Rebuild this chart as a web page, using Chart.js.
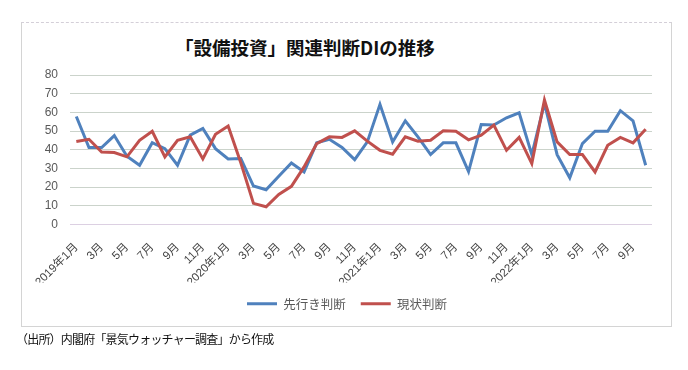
<!DOCTYPE html>
<html lang="ja">
<head>
<meta charset="utf-8">
<title>設備投資関連判断DIの推移</title>
<script src="https://cdn.jsdelivr.net/npm/chart.js@4"></script>
<style>
  html, body { margin: 0; padding: 0; background: #fff; }
  #page { position: relative; width: 688px; height: 370px; overflow: hidden; }
  #frame {
    position: absolute; left: 21px; top: 22px; width: 649px; height: 303px;
    border: 1px solid #d4d4d4; border-top: 1px dashed #d4cfd8;
  }
  #title {
    position: absolute; left: 175px; top: 34px;
    font: bold 18.5px "Noto Sans CJK JP", sans-serif; color: #111; white-space: nowrap;
  }
  #source {
    position: absolute; left: 16px; top: 330px; letter-spacing: -0.8px;
    font: 12px "Noto Sans CJK JP", sans-serif; color: #111; white-space: nowrap;
  }
  #chartBox { position: absolute; left: 0; top: 0; width: 688px; height: 370px; }
</style>
</head>
<body>
<div id="page">
  <div id="frame"></div>
  <div id="title">「設備投資」関連判断DIの推移</div>
  <div id="chartBox"><canvas id="diChart"></canvas></div>
  <div id="source">（出所）内閣府「景気ウォッチャー調査」から作成</div>
</div>
<script>
// ============================================================
// DATA
// ============================================================
const months = [
    "2019年1月", "2月", "3月", "4月", "5月", "6月", "7月", "8月", "9月", "10月", "11月", "12月",
    "2020年1月", "2月", "3月", "4月", "5月", "6月", "7月", "8月", "9月", "10月", "11月", "12月",
    "2021年1月", "2月", "3月", "4月", "5月", "6月", "7月", "8月", "9月", "10月", "11月", "12月",
    "2022年1月", "2月", "3月", "4月", "5月", "6月", "7月", "8月", "9月", "10月"
];

// 先行き判断 DI
const outlookDI = [
    57.8, 41.2, 41.2, 47.6, 36.5, 31.7, 43.8, 40.6, 31.7, 47.8, 51.4, 40.6,
    35.1, 35.3, 20.6, 18.6, 25.8, 32.9, 28.1, 43.7, 45.6, 41.2, 34.7, 44.2,
    64.3, 44.2, 55.5, 46.9, 37.4, 43.7, 43.7, 28.3, 53.5, 53.2, 57.1, 59.8,
    37.4, 64.8, 37.4, 25.0, 43.3, 49.9, 49.9, 60.9, 55.5, 31.7
];

// 現状判断 DI
const currentDI = [
    44.4, 45.6, 38.8, 38.5, 36.2, 45.1, 49.9, 36.2, 45.1, 46.9, 35.1, 48.3,
    52.7, 33.0, 11.3, 9.5, 16.1, 20.4, 30.8, 43.3, 46.9, 46.6, 50.1, 44.6,
    39.7, 37.6, 46.9, 44.6, 45.1, 50.1, 49.9, 45.3, 47.8, 53.2, 39.7, 46.6,
    32.6, 66.6, 44.2, 37.4, 37.4, 28.1, 42.4, 46.6, 43.7, 51.0
];

const yTicks = [0, 10, 20, 30, 40, 50, 60, 70, 80];

// ============================================================
// STYLE
// ============================================================
const COLORS = {
    outlook: "#4f81bd",
    current: "#c0504d",
    grid: "#cbd3cb",
    zeroLine: "#dcd0e2",
    text: "#595959",
    xText: "#444444"
};

Chart.defaults.font.family = "'Liberation Sans', 'Noto Sans CJK JP', sans-serif";
Chart.defaults.color = COLORS.text;

// ============================================================
// CHART
// ============================================================
const ctx = document.getElementById("diChart");

new Chart(ctx, {
    type: "line",
    data: {
        labels: months,
        datasets: [
            {
                label: "先行き判断",
                data: outlookDI,
                borderColor: COLORS.outlook,
                backgroundColor: COLORS.outlook,
                borderWidth: 3,
                pointRadius: 0,
                tension: 0,
                order: 2
            },
            {
                label: "現状判断",
                data: currentDI,
                borderColor: COLORS.current,
                backgroundColor: COLORS.current,
                borderWidth: 3,
                pointRadius: 0,
                tension: 0,
                order: 1
            }
        ]
    },
    options: {
        responsive: true,
        maintainAspectRatio: false,
        animation: false,
        // left/right padding keep the legend centred under the frame
        layout: { padding: { left: 42, right: 36, top: 75, bottom: 50 } },
        plugins: {
            title: { display: false },
            tooltip: { enabled: false },
            legend: {
                position: "bottom",
                labels: {
                    usePointStyle: true,
                    pointStyle: "line",
                    pointStyleWidth: 30,
                    padding: 15,
                    color: COLORS.text,
                    font: { size: 12.5, family: "'Noto Sans CJK JP', sans-serif" },
                    sort: (a, b) => a.datasetIndex - b.datasetIndex
                }
            }
        },
        scales: {
            x: {
                offset: true,
                grid: { display: false },
                border: { display: false },
                ticks: {
                    autoSkip: false,
                    maxRotation: 45,
                    minRotation: 45,
                    padding: 8,
                    font: { size: 11.5 },
                    color: COLORS.xText,
                    // Excel shows every second month
                    callback: (value, index) => (index % 2 === 0 ? months[index] : "")
                },
                afterFit: (scale) => { scale.height = 58; }
            },
            y: {
                min: 0,
                max: 80,
                afterBuildTicks: (scale) => { scale.ticks = yTicks.map(v => ({ value: v })); },
                grid: {
                    drawTicks: false,
                    color: (c) => (c.tick && c.tick.value === 0 ? COLORS.zeroLine : COLORS.grid),
                    lineWidth: 1
                },
                border: { display: false },
                ticks: {
                    autoSkip: false,
                    stepSize: 10,
                    padding: 12,
                    font: { size: 12 },
                    color: COLORS.text
                },
                afterFit: (scale) => { scale.width = 28; }
            }
        }
    }
});
</script>
</body>
</html>
